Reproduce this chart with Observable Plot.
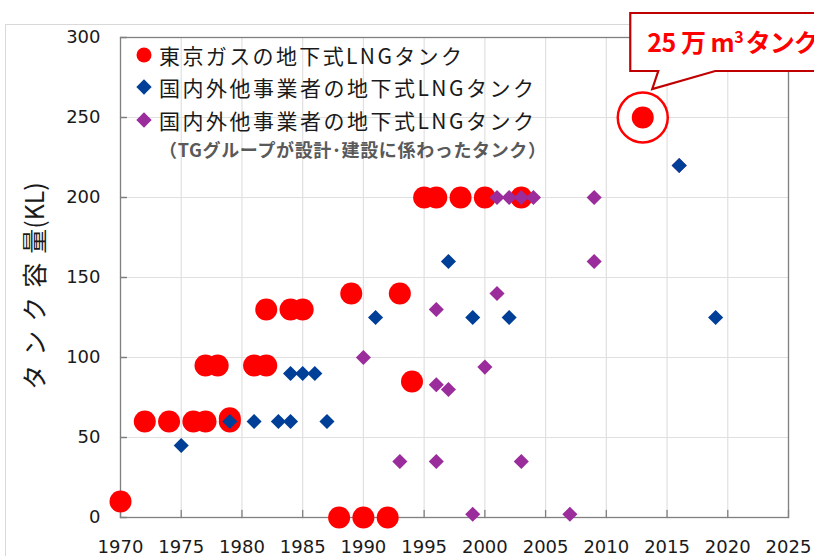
<!DOCTYPE html>
<html><head><meta charset="utf-8">
<script src="https://cdn.jsdelivr.net/npm/d3@7"></script>
<script src="https://cdn.jsdelivr.net/npm/@observablehq/plot@0.6"></script>
<style>body{margin:0;background:#fff;} #chart{width:814px;height:556px;overflow:hidden;}</style>
</head><body><div id="chart"></div>
<script>
// 東京ガスの地下式LNGタンク
const tokyoYears  = [1970,1972,1974,1976,1977,1979,1979,1977,1978,1981,1982,1982,1984,1985,1989,1993,1994,1988,1990,1992,1995,1996,1998,2000,2003,2013];
const tokyoValues = [10,  60,  60,  60,  60,  60,  62,  95,  95,  95,  95,  130, 130, 130, 140, 140, 85,  0,   0,   0,   200, 200, 200, 200, 200, 250];
// 国内外他事業者の地下式LNGタンク
const otherYears  = [1975,1979,1981,1983,1984,1987,1984,1985,1986,1991,1997,1999,2002,2016,2019];
const otherValues = [45,  60,  60,  60,  60,  60,  90,  90,  90,  125, 160, 125, 125, 220, 125];
// 国内外他事業者の地下式LNGタンク（TGグループが設計・建設に係わったタンク）
const groupYears  = [1990,1993,1996,1996,1996,1997,1999,2000,2001,2001,2002,2003,2004,2003,2007,2009,2009,2016];
const groupValues = [100, 35,  130, 83,  35,  80,  2,   94,  140, 200, 200, 200, 200, 35,  2,   200, 160, 220];

const xTicks = [1970,1975,1980,1985,1990,1995,2000,2005,2010,2015,2020,2025];
const yTicks = [0,50,100,150,200,250,300];

const legendLabels = ["東京ガスの地下式LNGタンク","国内外他事業者の地下式LNGタンク","国内外他事業者の地下式LNGタンク"];
const legendNote = "（TGグループが設計･建設に係わったタンク）";
const yLabelParts = ["タンク容", "量(KL)"];
const calloutParts = ["25 万 m", "3", "タンク"];

const colors = {tokyo: "#ff0000", other: "#003f98", group: "#9b2c9b"};

const rows = (ys, vs) => ys.map((x, i) => ({x, y: vs[i]}));
const tokyo = rows(tokyoYears, tokyoValues);
const other = rows(otherYears, otherValues);
const group = rows(groupYears, groupValues);
const highlight = [tokyo.reduce((a, b) => (b.y > a.y ? b : a))];

const tickShape = {draw(ctx, l) { ctx.moveTo(0, 0); ctx.lineTo(0, -l); }};

const plot = Plot.plot({
  width: 814, height: 556,
  marginLeft: 120, marginRight: 26, marginTop: 37, marginBottom: 39,
  x: {domain: [1970, 2025]},
  y: {domain: [0, 300]},
  style: {fontFamily: "DejaVu Sans", fontSize: "18px", color: "#1a1a1a", background: "white", overflow: "hidden"},
  marks: [
    Plot.gridX({ticks: xTicks, stroke: "#e0e0e0", strokeOpacity: 1, strokeWidth: 1.2}),
    Plot.gridY({ticks: yTicks, stroke: "#e0e0e0", strokeOpacity: 1, strokeWidth: 1.2}),
    Plot.frame({stroke: "#808080", strokeWidth: 1.3}),
    Plot.vector(xTicks, {x: d => d, frameAnchor: "bottom", length: 7, rotate: 0, anchor: "start", shape: tickShape, stroke: "#808080", strokeWidth: 1.3}),
    Plot.vector(yTicks, {y: d => d, frameAnchor: "left", length: 6, rotate: 90, anchor: "start", shape: tickShape, stroke: "#808080", strokeWidth: 1.3}),
    Plot.axisX({ticks: xTicks, tickSize: 0, tickPadding: 23, label: null, tickFormat: d => String(d), fill: "#1a1a1a"}),
    Plot.axisY({ticks: yTicks, tickSize: 0, tickPadding: 20, label: null, fill: "#1a1a1a"}),
    Plot.dot(highlight, {x: "x", y: "y", r: 25, fill: "white", stroke: colors.tokyo, strokeWidth: 2.5}),
    Plot.dot(tokyo, {x: "x", y: "y", r: 11, fill: colors.tokyo}),
    Plot.dot(group, {x: "x", y: "y", r: 6.8, symbol: "diamond2", fill: colors.group}),
    Plot.dot(other, {x: "x", y: "y", r: 6.8, symbol: "diamond2", fill: colors.other})
  ]
});

const svg = d3.select(plot);
const sx = plot.scale("x"), sy = plot.scale("y");

// outer chart-area border
svg.insert("rect", ":first-child")
  .attr("x", 5.5).attr("y", 24.5).attr("width", 900).attr("height", 900)
  .attr("fill", "none").attr("stroke", "#d9d9d9");

// y axis title
const yt = svg.append("text")
  .attr("transform", "translate(33,286) rotate(-90)")
  .attr("text-anchor", "middle").attr("dominant-baseline", "central")
  .attr("font-family", "Noto Sans CJK JP").attr("font-size", 25)
  .attr("fill", "#1a1a1a");
yt.append("tspan").attr("letter-spacing", 9).text(yLabelParts[0]);
yt.append("tspan").attr("letter-spacing", 0).text(yLabelParts[1]);

// legend
const lx = 144, ly = [55, 87, 120];
const lg = svg.append("g").attr("text-anchor", "start");
lg.append("circle").attr("cx", lx).attr("cy", ly[0]).attr("r", 7.5).attr("fill", colors.tokyo);
lg.append("path").attr("transform", `translate(${lx},${ly[1]})`).attr("d", d3.symbol(d3.symbolDiamond2, 150)()).attr("fill", colors.other);
lg.append("path").attr("transform", `translate(${lx},${ly[2]})`).attr("d", d3.symbol(d3.symbolDiamond2, 150)()).attr("fill", colors.group);
const lens = [303, 375, 375];
legendLabels.forEach((t, i) => {
  lg.append("text").attr("x", 159).attr("y", ly[i]).attr("dominant-baseline", "central").attr("text-anchor", "start")
    .attr("font-family", "Noto Sans CJK JP").attr("font-size", 21).attr("fill", "#1a1a1a")
    .attr("textLength", lens[i]).attr("lengthAdjust", "spacing")
    .text(t);
});
lg.append("text").attr("x", 159).attr("y", 149).attr("dominant-baseline", "central").attr("text-anchor", "start")
  .attr("font-family", "Noto Sans CJK JP").attr("font-size", 18).attr("font-weight", "bold").attr("fill", "#595959")
  .attr("textLength", 387).attr("lengthAdjust", "spacing")
  .text(legendNote);

// callout
const px = sx.apply(highlight[0].x), py = sy.apply(highlight[0].y);
const bl = px - 12, bt = py - 104, bb = py - 46, br = 900;
const cg = svg.append("g").attr("text-anchor", "start");
cg.append("path")
  .attr("d", `M${bl},${bt}H${br}V${bb}H${px + 73}L${px + 10},${py - 28}L${px + 16},${bb}H${bl}Z`)
  .attr("fill", "white").attr("stroke", "#c00000").attr("stroke-width", 2.2).attr("stroke-linejoin", "miter");
const ct = cg.append("text").attr("x", px + 5).attr("y", py - 65).attr("text-anchor", "start")
  .attr("font-family", "Noto Sans CJK JP").attr("font-weight", "bold").attr("font-size", 25).attr("fill", "#ff0000");
ct.append("tspan").attr("letter-spacing", -0.5).text(calloutParts[0]);
ct.append("tspan").attr("dy", -9).attr("font-size", 16).text(calloutParts[1]);
ct.append("tspan").attr("dy", 9).attr("dx", 2).attr("letter-spacing", -1).text(calloutParts[2]);

document.getElementById("chart").appendChild(plot);
</script>
</body></html>
